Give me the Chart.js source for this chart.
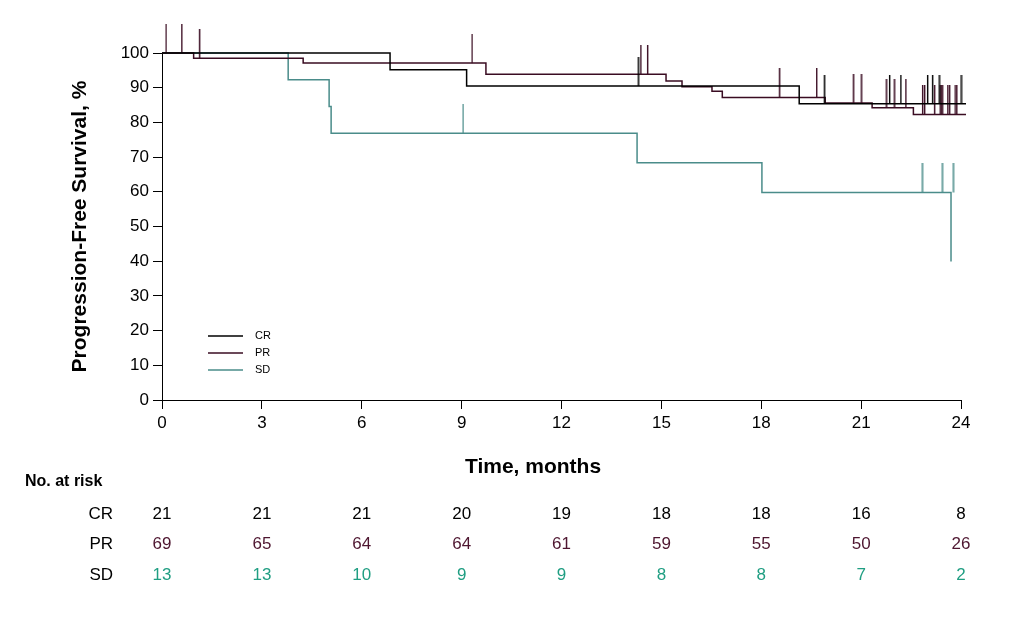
<!DOCTYPE html>
<html>
<head>
<meta charset="utf-8">
<script src="https://cdn.jsdelivr.net/npm/chart.js@4/dist/chart.umd.min.js"></script>
<style>
  html, body { margin: 0; padding: 0; background: #fff; }
</style>
</head>
<body>
<canvas id="km" width="1018" height="620"></canvas>
<script>
// Kaplan-Meier steps: time in months, progression-free survival in %
const crTime = [0, 6.85, 9.15, 19.14, 24.15];
const crPfs  = [100, 95.2, 90.5, 85.4, 85.4];
const prTime = [0, 0.95, 4.24, 9.73, 15.14, 15.62, 16.52, 16.83, 19.92, 21.33, 22.57, 24.15];
const prPfs  = [100, 98.5, 97.1, 93.9, 91.9, 90.3, 89.0, 87.2, 85.6, 84.2, 82.3, 82.3];
const sdTime = [0, 3.79, 5.02, 5.08, 14.27, 18.02, 23.70];
const sdPfs  = [100, 92.3, 84.6, 76.9, 68.4, 59.8, 39.9];

// censored patients (time, level of the curve at that time)
const crCensorTime = [14.30, 19.89, 21.85, 22.19, 22.99, 23.14, 23.34, 24.0];
const crCensorPfs  = [90.5, 85.4, 85.4, 85.4, 85.4, 85.4, 85.4, 85.4];
const prCensorTime = [0.12, 0.59, 1.12, 9.31, 14.38, 14.58, 18.54, 19.66, 20.76, 21.0,
                      21.75, 21.99, 22.34, 22.84, 22.90, 23.20, 23.37, 23.40, 23.43,
                      23.60, 23.65, 23.82, 23.87];
const prCensorPfs  = [100, 100, 98.5, 97.1, 93.9, 93.9, 87.2, 87.2, 85.6, 85.6,
                      84.2, 84.2, 84.2, 82.3, 82.3, 82.3, 82.3, 82.3, 82.3,
                      82.3, 82.3, 82.3, 82.3];
const sdCensorTime = [9.04, 22.83, 23.43, 23.76];
const sdCensorPfs  = [76.9, 59.8, 59.8, 59.8];

// number at risk table
const riskTimes = [0, 3, 6, 9, 12, 15, 18, 21, 24];
const crRisk = [21, 21, 21, 20, 19, 18, 18, 16, 8];
const prRisk = [69, 65, 64, 64, 61, 59, 55, 50, 26];
const sdRisk = [13, 13, 10, 9, 9, 8, 8, 7, 2];

const groups = ['CR', 'PR', 'SD'];
const lineColors = ['#000000', '#3a0c22', '#4a8c8a'];
const textColors = ['#000000', '#4e1630', '#1f9e82'];

const FONT = '"Liberation Sans", Arial, sans-serif';

function pts(xs, ys) {
    return xs.map((x, i) => ({ x: x, y: ys[i] }));
}

// vertical censor mark, drawn upwards from the curve
function censorMark(color) {
    const c = document.createElement('canvas');
    c.width = 3;
    c.height = 58;
    const g = c.getContext('2d');
    g.fillStyle = color;
    g.fillRect(1, 0, 1.4, 29);
    return c;
}

function curve(label, xs, ys, color, order) {
    return {
        type: 'line', label: label, data: pts(xs, ys),
        borderColor: color, borderWidth: 1.5, stepped: true,
        pointRadius: 0, fill: false, clip: false, order: order
    };
}

function censors(label, xs, ys, color, order) {
    return {
        type: 'scatter', label: label, data: pts(xs, ys),
        pointStyle: censorMark(color), pointRadius: 1, showLine: false,
        clip: false, order: order
    };
}

const kmExtras = {
    id: 'kmExtras',
    afterDraw(chart) {
        const ctx = chart.ctx;
        const area = chart.chartArea;
        const xs = chart.scales.x;
        ctx.save();

        // axis titles
        ctx.fillStyle = '#000';
        ctx.font = 'bold 21px ' + FONT;
        ctx.textAlign = 'center';
        ctx.textBaseline = 'middle';
        ctx.fillText('Time, months', 533, 467);
        ctx.save();
        ctx.translate(80, (area.top + area.bottom) / 2);
        ctx.rotate(-Math.PI / 2);
        ctx.fillText('Progression-Free Survival, %', 0, 0);
        ctx.restore();

        // legend
        ctx.font = '11px ' + FONT;
        ctx.textAlign = 'left';
        groups.forEach((g, i) => {
            const y = 336 + i * 17;
            ctx.strokeStyle = lineColors[i];
            ctx.lineWidth = 1.3;
            ctx.beginPath();
            ctx.moveTo(208, y);
            ctx.lineTo(243, y);
            ctx.stroke();
            ctx.fillStyle = '#000';
            ctx.fillText(g, 255, y);
        });

        // number at risk
        ctx.fillStyle = '#000';
        ctx.font = 'bold 16px ' + FONT;
        ctx.fillText('No. at risk', 25, 482);
        const rows = [crRisk, prRisk, sdRisk];
        ctx.font = '17px ' + FONT;
        rows.forEach((row, i) => {
            const y = 514 + i * 30.5;
            ctx.fillStyle = '#000';
            ctx.textAlign = 'right';
            ctx.fillText(groups[i], 113, y);
            ctx.fillStyle = textColors[i];
            ctx.textAlign = 'center';
            row.forEach((n, j) => {
                ctx.fillText(String(n), xs.getPixelForValue(riskTimes[j]), y);
            });
        });
        ctx.restore();
    }
};

const axisCommon = {
    grid: { drawOnChartArea: false, drawTicks: true, tickLength: 9, color: '#000', lineWidth: 1 },
    border: { display: true, color: '#000', width: 1 },
};

new Chart(document.getElementById('km'), {
    type: 'line',
    data: {
        datasets: [
            curve('CR', crTime, crPfs, lineColors[0], 1),
            curve('PR', prTime, prPfs, lineColors[1], 2),
            curve('SD', sdTime, sdPfs, lineColors[2], 3),
            censors('CR censored', crCensorTime, crCensorPfs, lineColors[0], 1),
            censors('PR censored', prCensorTime, prCensorPfs, lineColors[1], 2),
            censors('SD censored', sdCensorTime, sdCensorPfs, lineColors[2], 3)
        ]
    },
    options: {
        responsive: false,
        animation: false,
        layout: { padding: { top: 53, right: 57, left: 0, bottom: 180 } },
        plugins: { legend: { display: false }, tooltip: { enabled: false } },
        scales: {
            x: Object.assign({}, axisCommon, {
                type: 'linear', min: 0, max: 24,
                ticks: { stepSize: 3, color: '#000', padding: 4, maxRotation: 0, font: { family: FONT, size: 17 } },
                afterFit: s => { s.height = 40; }
            }),
            y: Object.assign({}, axisCommon, {
                type: 'linear', min: 0, max: 100,
                ticks: { stepSize: 10, color: '#000', padding: 4, font: { family: FONT, size: 17 } },
                afterFit: s => { s.width = 162; }
            })
        }
    },
    plugins: [kmExtras]
});
</script>
</body>
</html>
